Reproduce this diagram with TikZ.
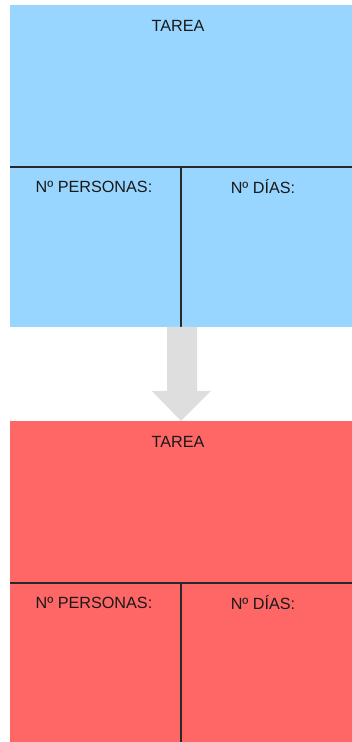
\documentclass[tikz,border=0pt]{standalone}
\usepackage{fontspec}
\setmainfont{Liberation Sans}
\definecolor{boxblue}{RGB}{153,214,255}
\definecolor{boxred}{RGB}{255,102,102}
\definecolor{arrowgrey}{RGB}{222,222,222}
\definecolor{linedark}{RGB}{40,40,40}
\begin{document}
\begin{tikzpicture}[x=1pt,y=1pt,
  panel/.style={rectangle, inner sep=0pt, outer sep=0pt, minimum width=342pt, minimum height=322pt, draw=none},
  divider/.style={draw=linedark, line width=1.3pt},
  label/.style={font=\fontsize{16.2}{19}\selectfont, text=black!90, inner sep=0pt}]
\useasboundingbox (0,0) rectangle (352,742);
% panels
\node[panel, fill=boxblue, anchor=north west] (blue) at (10,737) {};
\node[panel, fill=boxred, minimum height=321pt, anchor=south west] (red) at (10,0) {};
% dividers
\coordinate (bl) at (10,575);
\coordinate (br) at (352,575);
\coordinate (bt) at (181,575);
\coordinate (bb) at (181,415);
\draw[divider] (bl) -- (br);
\draw[divider] (bt) -- (bb);
\coordinate (rl) at (10,159);
\coordinate (rr) at (352,159);
\coordinate (rt) at (181,159);
\coordinate (rb) at (181,0);
\draw[divider] (rl) -- (rr);
\draw[divider] (rt) -- (rb);
% arrow
\fill[arrowgrey] (blue.south -| 167,0) -- (blue.south -| 197,0) -- (197,351) -- (211,351) -- (red.north -| 181,0) -- (152,351) -- (167,351) -- cycle;
% labels
\node[label] (t1) at (178,716) {TAREA};
\node[label] (p1) at (94,555) {Nº PERSONAS:};
\node[label] (d1) at (263,555) {Nº DÍAS:};
\node[label] (t2) at (178,300) {TAREA};
\node[label] (p2) at (94,139) {Nº PERSONAS:};
\node[label] (d2) at (263,139) {Nº DÍAS:};
\end{tikzpicture}
\end{document}
